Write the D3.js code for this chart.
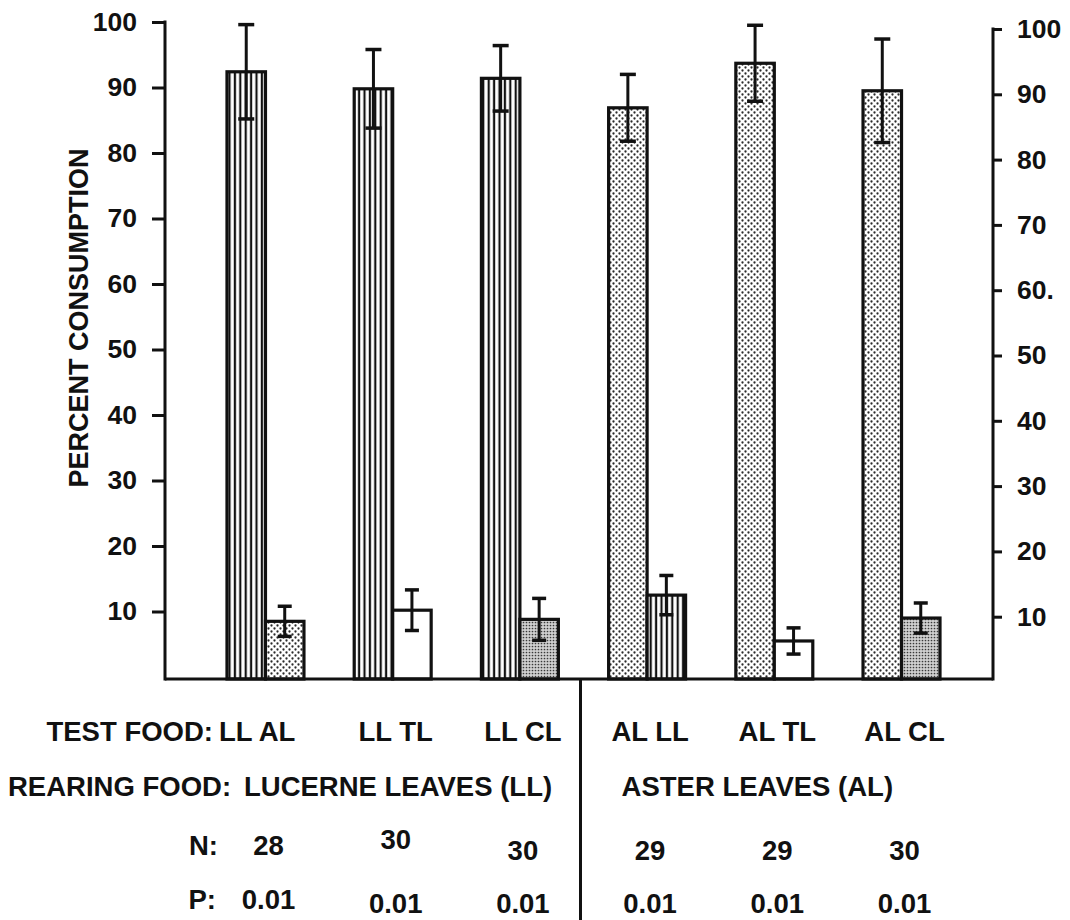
<!DOCTYPE html>
<html>
<head>
<meta charset="utf-8">
<script src="https://cdn.jsdelivr.net/npm/d3@7"></script>
<style>
  body { margin: 0; background: #fff; }
  svg text { font-family: "Liberation Sans", Arial, Helvetica, sans-serif; font-weight: bold; fill: #111; }
</style>
</head>
<body>
<svg id="chart" width="1070" height="920"></svg>
<script>
// Two-choice feeding tests: first food = rearing food, second = alternative
const testFood   = ["LL AL", "LL TL", "LL CL", "AL LL", "AL TL", "AL CL"];
const rearingFood = ["LUCERNE LEAVES (LL)", "ASTER LEAVES (AL)"];
const rearedMean = [92.4, 89.8, 91.4, 86.9, 93.7, 89.5];
const rearedErr  = [7.2, 6.0, 5.0, 5.1, 5.8, 7.9];
const altMean    = [8.5, 10.2, 8.8, 12.5, 5.5, 9.0];
const altErr     = [2.3, 3.1, 3.2, 3.0, 2.0, 2.3];
const nValues    = [28, 30, 30, 29, 29, 30];
const pValues    = ["0.01", "0.01", "0.01", "0.01", "0.01", "0.01"];
const leftTicks  = [10, 20, 30, 40, 50, 60, 70, 80, 90, 100];
const rightTickLabels = ["10", "20", "30", "40", "50", "60.", "70", "80", "90", "100"];

const svg = d3.select("#chart");
const ink = "#111";

// fill patterns for each food type
const defs = svg.append("defs");
const stripes = defs.append("pattern").attr("id", "pat-LL")
  .attr("patternUnits", "userSpaceOnUse").attr("width", 5.4).attr("height", 10);
stripes.append("rect").attr("width", 5.4).attr("height", 10).attr("fill", "#fff");
stripes.append("rect").attr("x", 1.6).attr("width", 2.2).attr("height", 10).attr("fill", ink);

const dots = defs.append("pattern").attr("id", "pat-AL")
  .attr("patternUnits", "userSpaceOnUse").attr("width", 6).attr("height", 6);
dots.append("rect").attr("width", 6).attr("height", 6).attr("fill", "#fff");
dots.append("circle").attr("cx", 1.5).attr("cy", 1.5).attr("r", 1.15).attr("fill", "#2a2a2a");
dots.append("circle").attr("cx", 4.5).attr("cy", 4.5).attr("r", 1.15).attr("fill", "#2a2a2a");

const dense = defs.append("pattern").attr("id", "pat-CL")
  .attr("patternUnits", "userSpaceOnUse").attr("width", 3).attr("height", 3);
dense.append("rect").attr("width", 3).attr("height", 3).attr("fill", "#d0d0d0");
dense.append("circle").attr("cx", 1.5).attr("cy", 1.5).attr("r", 0.85).attr("fill", "#3a3a3a");

const fillFor = code => code === "TL" ? "#fff" : `url(#pat-${code})`;

// scales
const y = d3.scaleLinear().domain([0, 100]).range([677, 22]);
const yR = d3.scaleLinear().domain([0, 100]).range([682, 29]);
const x = d3.scaleBand().domain(testFood).range([227, 940]).paddingInner(0.395).paddingOuter(0);
const sub = d3.scaleBand().domain([0, 1]).range([0, x.bandwidth()]);

const plotLeft = 165, plotRight = 993, baseY = 679;

// bars
const rows = testFood.map((t, i) => {
  const codes = t.split(" ");
  return [
    { group: t, k: 0, code: codes[0], m: rearedMean[i], e: rearedErr[i] },
    { group: t, k: 1, code: codes[1], m: altMean[i], e: altErr[i] }
  ];
}).flat();

const g = svg.append("g");
g.selectAll("rect.bar").data(rows).join("rect")
  .attr("class", "bar")
  .attr("x", d => x(d.group) + sub(d.k))
  .attr("width", sub.bandwidth())
  .attr("y", d => y(d.m))
  .attr("height", d => baseY - y(d.m))
  .attr("fill", d => fillFor(d.code))
  .attr("stroke", ink)
  .attr("stroke-width", 3.2);

// error bars
const eb = g.selectAll("g.err").data(rows).join("g").attr("class", "err")
  .attr("transform", d => `translate(${x(d.group) + sub(d.k) + sub.bandwidth() / 2},0)`);
eb.append("line")
  .attr("y1", d => y(d.m + d.e)).attr("y2", d => y(d.m - d.e))
  .attr("stroke", ink).attr("stroke-width", 3);
eb.append("line")
  .attr("x1", d => d.k ? -7 : -8).attr("x2", d => d.k ? 7 : 8)
  .attr("y1", d => y(d.m + d.e)).attr("y2", d => y(d.m + d.e))
  .attr("stroke", ink).attr("stroke-width", 3.5);
eb.append("line")
  .attr("x1", d => d.k ? -7 : -8).attr("x2", d => d.k ? 7 : 8)
  .attr("y1", d => y(d.m - d.e)).attr("y2", d => y(d.m - d.e))
  .attr("stroke", ink).attr("stroke-width", 3.5);

// axes
const axL = svg.append("g").attr("transform", `translate(${plotLeft},0)`)
  .call(d3.axisLeft(y).tickValues(leftTicks).tickSize(13).tickSizeOuter(0).tickPadding(15));
axL.select(".domain").remove();
axL.selectAll(".tick line").attr("stroke", ink).attr("stroke-width", 3);
axL.selectAll(".tick text").attr("font-size", 26.5).attr("fill", ink);
svg.append("line").attr("x1", plotLeft).attr("x2", plotLeft)
  .attr("y1", y(100) - 1.5).attr("y2", baseY + 1.5).attr("stroke", ink).attr("stroke-width", 3);

const axR = svg.append("g").attr("transform", `translate(${plotRight},0)`)
  .call(d3.axisRight(yR).tickValues(leftTicks).tickSize(9).tickSizeOuter(0).tickPadding(15)
    .tickFormat((d, i) => rightTickLabels[i]));
axR.select(".domain").remove();
axR.selectAll(".tick line").attr("stroke", ink).attr("stroke-width", 3);
axR.selectAll(".tick text").attr("font-size", 26.5).attr("fill", ink);
svg.append("line").attr("x1", plotRight).attr("x2", plotRight)
  .attr("y1", yR(100) - 1.5).attr("y2", baseY + 1.5).attr("stroke", ink).attr("stroke-width", 3);

// baseline
svg.append("line").attr("x1", plotLeft).attr("x2", plotRight)
  .attr("y1", baseY).attr("y2", baseY).attr("stroke", ink).attr("stroke-width", 3);

// divider between rearing groups
const divX = (x(testFood[2]) + x.bandwidth() + x(testFood[3])) / 2 - 3;
svg.append("line").attr("x1", divX).attr("x2", divX)
  .attr("y1", baseY).attr("y2", 920).attr("stroke", ink).attr("stroke-width", 3);

// y axis title
svg.append("text")
  .attr("transform", "translate(88,318) rotate(-90)")
  .attr("text-anchor", "middle").attr("font-size", 27)
  .text("PERCENT CONSUMPTION");

// table below the plot
const fs = 27.5;
const cx = t => x(t) + x.bandwidth() / 2 + 3;
svg.append("text").attr("x", 213).attr("y", 741).attr("text-anchor", "end")
  .attr("font-size", fs).text("TEST FOOD:");
svg.selectAll("text.tf").data(testFood).join("text").attr("class", "tf")
  .attr("x", (d, i) => i === 0 ? 219 : cx(d)).attr("y", 741)
  .attr("text-anchor", (d, i) => i === 0 ? "start" : "middle")
  .attr("font-size", fs).text(d => d);

svg.append("text").attr("x", 8).attr("y", 796).attr("font-size", fs).text("REARING FOOD:");
svg.selectAll("text.rf").data(rearingFood).join("text").attr("class", "rf")
  .attr("x", (d, i) => x(testFood[i * 3]) + (i ? 13 : 17)).attr("y", 796)
  .attr("font-size", fs).text(d => d);

svg.append("text").attr("x", 218).attr("y", 855).attr("text-anchor", "end")
  .attr("font-size", fs).text("N:");
svg.selectAll("text.n").data(nValues).join("text").attr("class", "n")
  .attr("x", (d, i) => cx(testFood[i])).attr("y", (d, i) => i === 1 ? 849 : (i === 0 ? 855 : 860))
  .attr("text-anchor", "middle").attr("font-size", fs).text(d => d);

svg.append("text").attr("x", 216).attr("y", 909).attr("text-anchor", "end")
  .attr("font-size", fs).text("P:");
svg.selectAll("text.p").data(pValues).join("text").attr("class", "p")
  .attr("x", (d, i) => cx(testFood[i])).attr("y", (d, i) => i === 0 ? 909 : 913)
  .attr("text-anchor", "middle").attr("font-size", fs).text(d => d);
</script>
</body>
</html>
